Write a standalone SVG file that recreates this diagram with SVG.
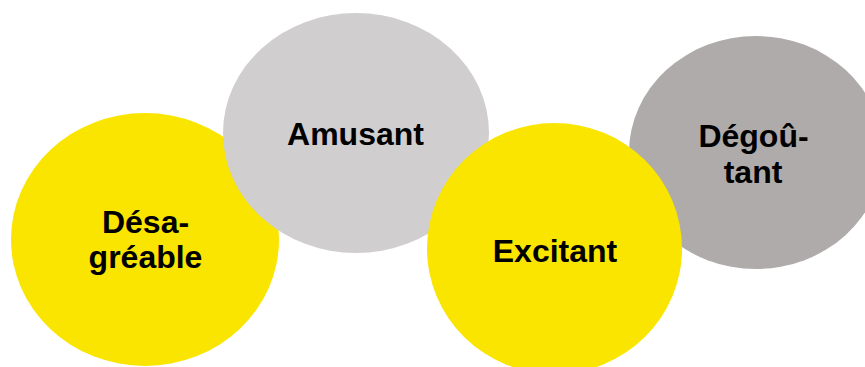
<svg xmlns="http://www.w3.org/2000/svg" width="865" height="367" viewBox="0 0 865 367">
<style>
.t{font-family:"Liberation Sans",Arial,sans-serif;font-weight:bold;font-size:32px;fill:#000;text-anchor:middle}
.y{fill:#F9E500}
.g1{fill:#D0CECF}
.g2{fill:#AFABAB}
</style>
<rect width="865" height="367" fill="#fff"/>
<g id="desagreable">
<ellipse class="y" cx="145" cy="239.5" rx="134" ry="126.5"/>
<text class="t" x="145.5" y="233">Désa-</text>
<text class="t" x="145.5" y="268">gréable</text>
</g>
<g id="amusant">
<ellipse class="g1" cx="356" cy="133" rx="133" ry="120"/>
<text class="t" x="355.5" y="145">Amusant</text>
</g>
<g id="degoutant">
<ellipse class="g2" cx="756" cy="152.5" rx="127" ry="116.5"/>
<text class="t" x="753.5" y="147">Dégoû-</text>
<text class="t" x="753" y="183">tant</text>
</g>
<g id="excitant">
<ellipse class="y" cx="554.5" cy="248.5" rx="127.5" ry="125.5"/>
<text class="t" x="555" y="262">Excitant</text>
</g>
<g id="connectors"/>
</svg>
